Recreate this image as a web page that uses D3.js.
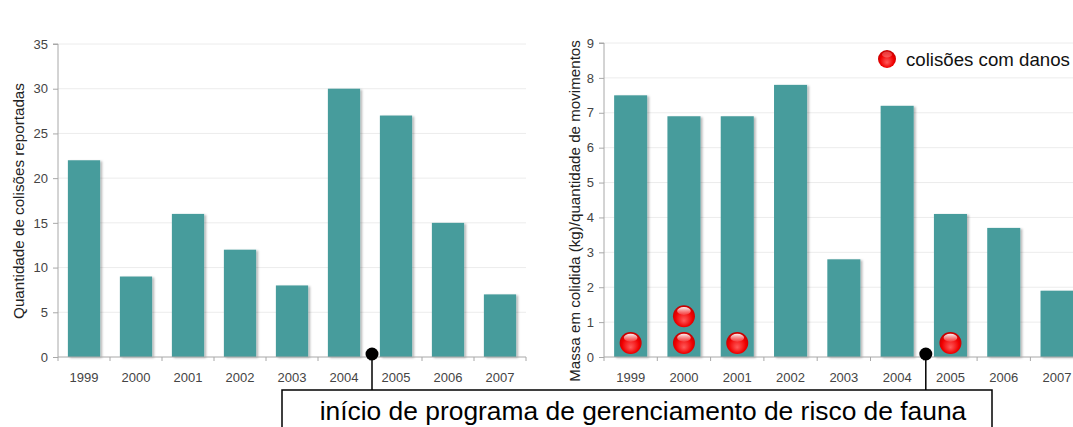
<!DOCTYPE html>
<html>
<head>
<meta charset="utf-8">
<script src="https://cdn.jsdelivr.net/npm/d3@7"></script>
<style>
  html, body { margin: 0; padding: 0; background: #fff; }
  svg { display: block; font-family: "Liberation Sans", Arial, sans-serif; }
</style>
</head>
<body>
<svg id="chart" width="1073" height="427"></svg>
<script>
// Years shown on both panels
const years = ["1999", "2000", "2001", "2002", "2003", "2004", "2005", "2006", "2007"];
// Left panel: reported collisions per year
const collisions = [22, 9, 16, 12, 8, 30, 27, 15, 7];
// Right panel: mass struck (kg) per aircraft movement
const massPerMovement = [7.5, 6.9, 6.9, 7.8, 2.8, 7.2, 4.1, 3.7, 1.9];
// Number of collisions with damage per year (red markers)
const damageCollisions = [1, 2, 1, 0, 0, 0, 1, 0, 0];
// Y tick values
const leftTicks = [0, 5, 10, 15, 20, 25, 30, 35];
const rightTicks = [0, 1, 2, 3, 4, 5, 6, 7, 8, 9];
// Year in which the wildlife risk management programme began
const programStart = "2005";

const svg = d3.select("#chart");
const barColor = "#469c9c";

const defs = svg.append("defs");
const shadow = defs.append("filter").attr("id", "barShadow")
  .attr("x", "-20%").attr("y", "-5%").attr("width", "160%").attr("height", "115%");
shadow.append("feDropShadow").attr("dx", 2).attr("dy", 1)
  .attr("stdDeviation", 1.2).attr("flood-color", "#000").attr("flood-opacity", 0.28);

const ball = defs.append("radialGradient").attr("id", "redBall")
  .attr("cx", "50%").attr("cy", "55%").attr("r", "55%")
  .attr("fx", "50%").attr("fy", "70%");
ball.append("stop").attr("offset", "0%").attr("stop-color", "#ff5a5a");
ball.append("stop").attr("offset", "70%").attr("stop-color", "#f00000");
ball.append("stop").attr("offset", "100%").attr("stop-color", "#c00000");
const gloss = defs.append("linearGradient").attr("id", "gloss")
  .attr("x1", 0).attr("y1", 0).attr("x2", 0).attr("y2", 1);
gloss.append("stop").attr("offset", "0%").attr("stop-color", "#fff").attr("stop-opacity", 0.95);
gloss.append("stop").attr("offset", "100%").attr("stop-color", "#fff").attr("stop-opacity", 0.1);

// scale a text's font so that it spans the given length
function fitText(sel, base, length) {
  sel.attr("font-size", base);
  const w = sel.node().getComputedTextLength();
  sel.attr("font-size", base * length / w);
}

function drawPanel(opts) {
  const { x0, x1, xClip, yTop, yBottom, values, ticks, yMax, title, titleX, titleY, titleLen } = opts;
  const x = d3.scaleBand().domain(years).range([x0, x1])
    .paddingInner(0.38).paddingOuter(0.19);
  const y = d3.scaleLinear().domain([0, yMax]).range([yBottom, yTop]);
  const g = svg.append("g");
  const right = Math.min(x1, xClip);

  // horizontal gridlines
  g.selectAll(".grid").data(ticks.filter(t => t > 0)).join("line")
    .attr("x1", x0).attr("x2", right)
    .attr("y1", d => y(d)).attr("y2", d => y(d))
    .attr("stroke", "#ececec").attr("stroke-width", 1);

  // bars
  g.selectAll(".bar").data(values).join("rect")
    .attr("x", (d, i) => x(years[i]))
    .attr("y", d => y(d))
    .attr("width", x.bandwidth())
    .attr("height", d => y(0) - y(d))
    .attr("fill", barColor)
    .attr("filter", "url(#barShadow)");

  // y axis
  const yAxis = d3.axisLeft(y).tickValues(ticks).tickSize(5).tickPadding(5);
  const ya = g.append("g").attr("transform", `translate(${x0},0)`).call(yAxis);
  ya.select(".domain").attr("stroke", "#a8a8a8").attr("d", `M-5,${y(yMax)}H0V${y(0)}`);
  ya.selectAll(".tick line").attr("stroke", "#a8a8a8");
  ya.selectAll(".tick text").attr("fill", "#444").attr("font-size", 13);

  // x axis baseline with ticks at band boundaries
  g.append("line").attr("x1", x0).attr("x2", right)
    .attr("y1", y(0)).attr("y2", y(0)).attr("stroke", "#a8a8a8");
  const step = x.step();
  const bounds = years.map(yr => x(yr) - step * 0.19).concat([x(years[years.length - 1]) + x.bandwidth() + step * 0.19]);
  g.selectAll(".xtick").data(bounds).join("line")
    .attr("x1", d => d).attr("x2", d => d)
    .attr("y1", y(0)).attr("y2", y(0) + 4)
    .attr("stroke", "#a8a8a8");
  g.selectAll(".xlabel").data(years).join("text")
    .attr("x", d => x(d) + x.bandwidth() / 2)
    .attr("y", y(0) + 25)
    .attr("text-anchor", "middle")
    .attr("fill", "#444").attr("font-size", 13)
    .text(d => d);

  // axis title
  const t = svg.append("text")
    .attr("transform", `translate(${titleX},${titleY}) rotate(-90)`)
    .attr("text-anchor", "middle")
    .attr("fill", "#222")
    .text(title);
  fitText(t, 15, titleLen);

  return { x, y, step };
}

const left = drawPanel({
  x0: 58, x1: 526, xClip: 2000, yTop: 44, yBottom: 357,
  values: collisions, ticks: leftTicks, yMax: 35,
  title: "Quantidade de colisões reportadas", titleX: 24, titleY: 201, titleLen: 236
});

const rightP = drawPanel({
  x0: 604, x1: 604 + 9 * 53.3, xClip: 1073, yTop: 43, yBottom: 357,
  values: massPerMovement, ticks: rightTicks, yMax: 9,
  title: "Massa em colidida (kg)/quantidade de movimentos", titleX: 580, titleY: 211, titleLen: 342
});

// red markers for collisions with damage, stacked from the baseline
const markers = [];
damageCollisions.forEach((n, i) => {
  for (let k = 0; k < n; k++) markers.push({ year: years[i], k });
});
function drawBall(cx, cy, r) {
  const b = svg.append("g");
  b.append("circle").attr("cx", cx).attr("cy", cy).attr("r", r).attr("fill", "url(#redBall)");
  b.append("ellipse").attr("cx", cx).attr("cy", cy - r * 0.48)
    .attr("rx", r * 0.62).attr("ry", r * 0.36).attr("fill", "url(#gloss)");
}
markers.forEach(m => {
  const cx = rightP.x(m.year) + rightP.x.bandwidth() / 2;
  const cy = rightP.y(0) - 14 - m.k * 26.7;
  drawBall(cx, cy, 11);
});

// legend
svg.append("circle").attr("cx", 887).attr("cy", 59).attr("r", 9).attr("fill", "url(#redBall)");
svg.append("ellipse").attr("cx", 887).attr("cy", 54.5).attr("rx", 5).attr("ry", 3)
  .attr("fill", "#fff").attr("opacity", 0.25);
const legendText = svg.append("text").attr("x", 906).attr("y", 66)
  .attr("fill", "#111")
  .text("colisões com danos");
fitText(legendText, 19, 164);

// programme start markers and annotation box
const boxTop = 390;
[left, rightP].forEach(p => {
  const bx = p.x(programStart) - p.step * 0.19 + 2;
  const by = p.y(0) - 3;
  svg.append("line").attr("x1", bx).attr("x2", bx).attr("y1", by).attr("y2", boxTop)
    .attr("stroke", "#000").attr("stroke-width", 1.5);
  svg.append("circle").attr("cx", bx).attr("cy", by).attr("r", 6.5).attr("fill", "#000");
});
svg.append("rect").attr("x", 282).attr("y", boxTop).attr("width", 710).attr("height", 60)
  .attr("fill", "#fff").attr("stroke", "#000").attr("stroke-width", 1.5);
const note = svg.append("text").attr("x", 643).attr("y", 420)
  .attr("text-anchor", "middle").attr("fill", "#000")
  .text("início de programa de gerenciamento de risco de fauna");
fitText(note, 24, 647);
</script>
</body>
</html>
